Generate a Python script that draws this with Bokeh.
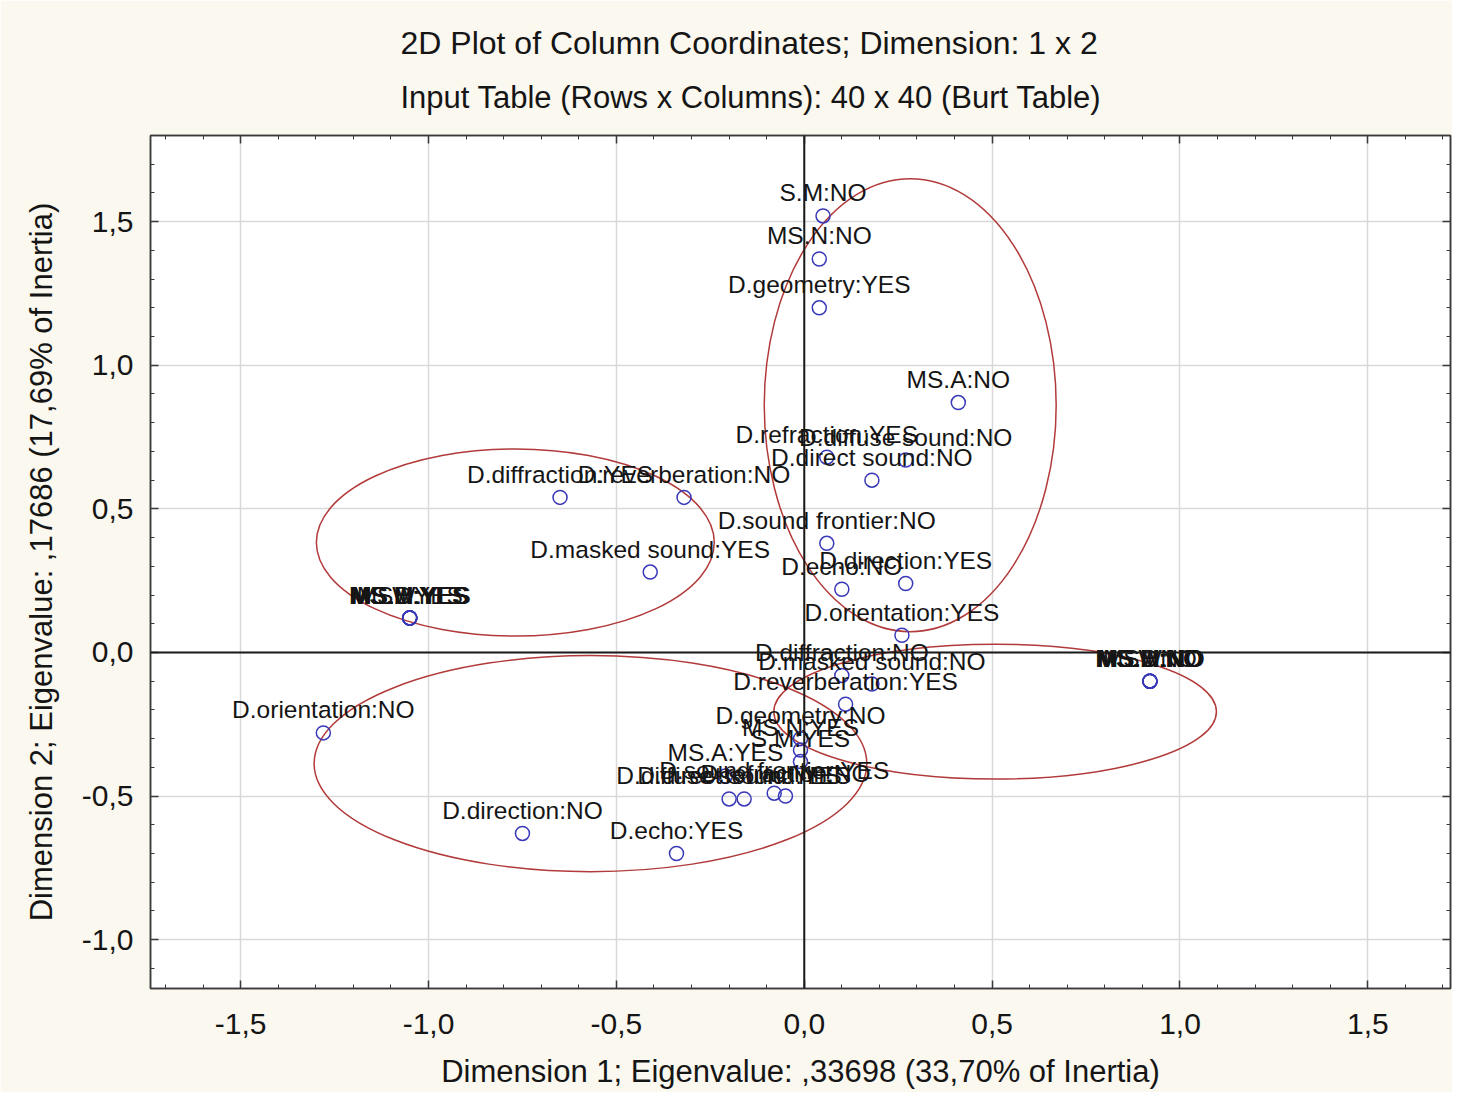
from bokeh.plotting import figure
from bokeh.models import (Range1d, Span, Title, LinearAxis, SingleIntervalTicker,
                          CustomJSTickFormatter, ColumnDataSource)
from bokeh.core.properties import value
from bokeh.embed import file_html
from bokeh.resources import INLINE

# ---------------- data ----------------
title_line1 = "2D Plot of Column Coordinates; Dimension:  1 x  2"
title_line2 = "Input Table (Rows x Columns): 40 x 40 (Burt Table)"
x_title = "Dimension 1; Eigenvalue: ,33698 (33,70% of Inertia)"
y_title = "Dimension 2; Eigenvalue: ,17686 (17,69% of Inertia)"

labels = [
    "S.M:NO", "MS.N:NO", "D.geometry:YES", "MS.A:NO", "D.refraction:YES",
    "D.diffuse sound:NO", "D.direct sound:NO", "D.sound frontier:NO",
    "D.direction:YES", "D.echo:NO", "D.orientation:YES",
    "D.diffraction:YES", "D.reverberation:NO", "D.masked sound:YES",
    "MS.H:YES", "MS.I:YES", "MS.U:YES", "MS.D:YES", "MS.W:YES", "MS.M:YES",
    "D.orientation:NO", "D.direction:NO", "D.echo:YES",
    "MS.H:NO", "MS.I:NO", "MS.U:NO", "MS.D:NO", "MS.W:NO", "MS.M:NO",
    "D.diffraction:NO", "D.masked sound:NO", "D.reverberation:YES",
    "D.geometry:NO", "MS.N:YES", "S.M:YES", "MS.A:YES",
    "D.diffuse sound:YES", "D.direct sound:YES", "D.sound frontier:YES",
    "D.refraction:NO",
]
dim1 = [
    0.05, 0.04, 0.04, 0.41, 0.06,
    0.27, 0.18, 0.06,
    0.27, 0.10, 0.26,
    -0.65, -0.32, -0.41,
    -1.05, -1.05, -1.05, -1.05, -1.05, -1.05,
    -1.28, -0.75, -0.34,
    0.92, 0.92, 0.92, 0.92, 0.92, 0.92,
    0.10, 0.18, 0.11,
    -0.01, -0.01, -0.01, -0.21,
    -0.20, -0.16, -0.08,
    -0.05,
]
dim2 = [
    1.52, 1.37, 1.20, 0.87, 0.68,
    0.67, 0.60, 0.38,
    0.24, 0.22, 0.06,
    0.54, 0.54, 0.28,
    0.12, 0.12, 0.12, 0.12, 0.12, 0.12,
    -0.28, -0.63, -0.70,
    -0.10, -0.10, -0.10, -0.10, -0.10, -0.10,
    -0.08, -0.11, -0.18,
    -0.30, -0.34, -0.38, -0.43,
    -0.51, -0.51, -0.49,
    -0.50,
]

# grouping ellipses (centre, width, height in data units)
ell_x = [0.282, -0.769, -0.569, 0.508]
ell_y = [0.861, 0.383, -0.387, -0.206]
ell_w = [0.777, 1.059, 1.471, 1.178]
ell_h = [1.578, 0.652, 0.753, 0.470]

# ---------------- figure ----------------
FONT = "Liberation Sans"
TXT = "#151515"

p = figure(width=1452, height=1092,
           x_range=Range1d(-1.74, 1.72), y_range=Range1d(-1.17, 1.8),
           output_backend="svg", toolbar_location=None, title=None,
           min_border_left=150, min_border_top=135,
           min_border_right=2, min_border_bottom=104,
           background_fill_color="white", border_fill_color="#FBF8EF")

p.outline_line_color = "#3a3a3a"
p.outline_line_width = 1.5

fmt = CustomJSTickFormatter(code="return tick.toFixed(1).replace('.', ',');")
blank = CustomJSTickFormatter(code="return '';")

def style_axis(ax, show_labels=True):
    ax.ticker = SingleIntervalTicker(interval=0.5, num_minor_ticks=5)
    ax.axis_line_color = "#3a3a3a"
    ax.axis_line_width = 1.5
    ax.major_tick_in = 8
    ax.major_tick_out = 0
    ax.minor_tick_in = 4
    ax.minor_tick_out = 0
    ax.major_tick_line_color = "#3a3a3a"
    ax.minor_tick_line_color = "#3a3a3a"
    ax.major_tick_line_width = 1.5
    ax.minor_tick_line_width = 1
    ax.major_label_text_font = FONT
    ax.major_label_text_color = TXT
    ax.axis_label_text_font = FONT
    ax.axis_label_text_color = TXT
    ax.axis_label_text_font_style = "normal"
    if show_labels:
        ax.formatter = fmt
        ax.major_label_text_font_size = "30px"
        ax.axis_label_text_font_size = "31px"
    else:
        ax.formatter = blank
        ax.major_label_standoff = 0
        ax.axis_label = None

style_axis(p.xaxis[0])
style_axis(p.yaxis[0])
p.xaxis[0].axis_label = x_title
p.yaxis[0].axis_label = y_title
p.xaxis[0].major_label_standoff = 25
p.xaxis[0].axis_label_standoff = 17
p.yaxis[0].major_label_standoff = 17
p.yaxis[0].axis_label_standoff = 20

top_ax = LinearAxis()
style_axis(top_ax, show_labels=False)
right_ax = LinearAxis()
style_axis(right_ax, show_labels=False)
p.add_layout(top_ax, "above")
p.add_layout(right_ax, "right")

p.xgrid.ticker = p.xaxis[0].ticker
p.ygrid.ticker = p.yaxis[0].ticker
p.grid.grid_line_color = "#d9d9d9"
p.grid.grid_line_width = 1.5

# titles (first added sits nearest the frame)
p.add_layout(Title(text=title_line2, align="left", text_font=FONT,
                   text_font_size="31px", text_font_style="normal",
                   text_color=TXT, standoff=41, offset=250), "above")
p.add_layout(Title(text=title_line1, align="left", text_font=FONT,
                   text_font_size="32px", text_font_style="normal",
                   text_color=TXT, standoff=-7, offset=250), "above")

# zero lines
p.add_layout(Span(location=0, dimension="width", line_color="#1a1a1a", line_width=2))
p.add_layout(Span(location=0, dimension="height", line_color="#1a1a1a", line_width=2))

# ellipses
esrc = ColumnDataSource(dict(x=ell_x, y=ell_y, w=ell_w, h=ell_h))
p.ellipse(x="x", y="y", width="w", height="h", source=esrc,
          fill_color=None, line_color="#B23A3A", line_width=1.5)

# points and labels
src = ColumnDataSource(dict(x=dim1, y=dim2, t=labels))
p.scatter(x="x", y="y", source=src, marker="circle", size=14,
          fill_color=None, line_color="#3838B8", line_width=1.5)
p.text(x="x", y="y", text="t", source=src, text_align="center",
       text_baseline="middle", y_offset=-23, text_font=value(FONT),
       text_font_size="24.5px", text_color=TXT)

open("out.html", "w").write(file_html(p, INLINE))
